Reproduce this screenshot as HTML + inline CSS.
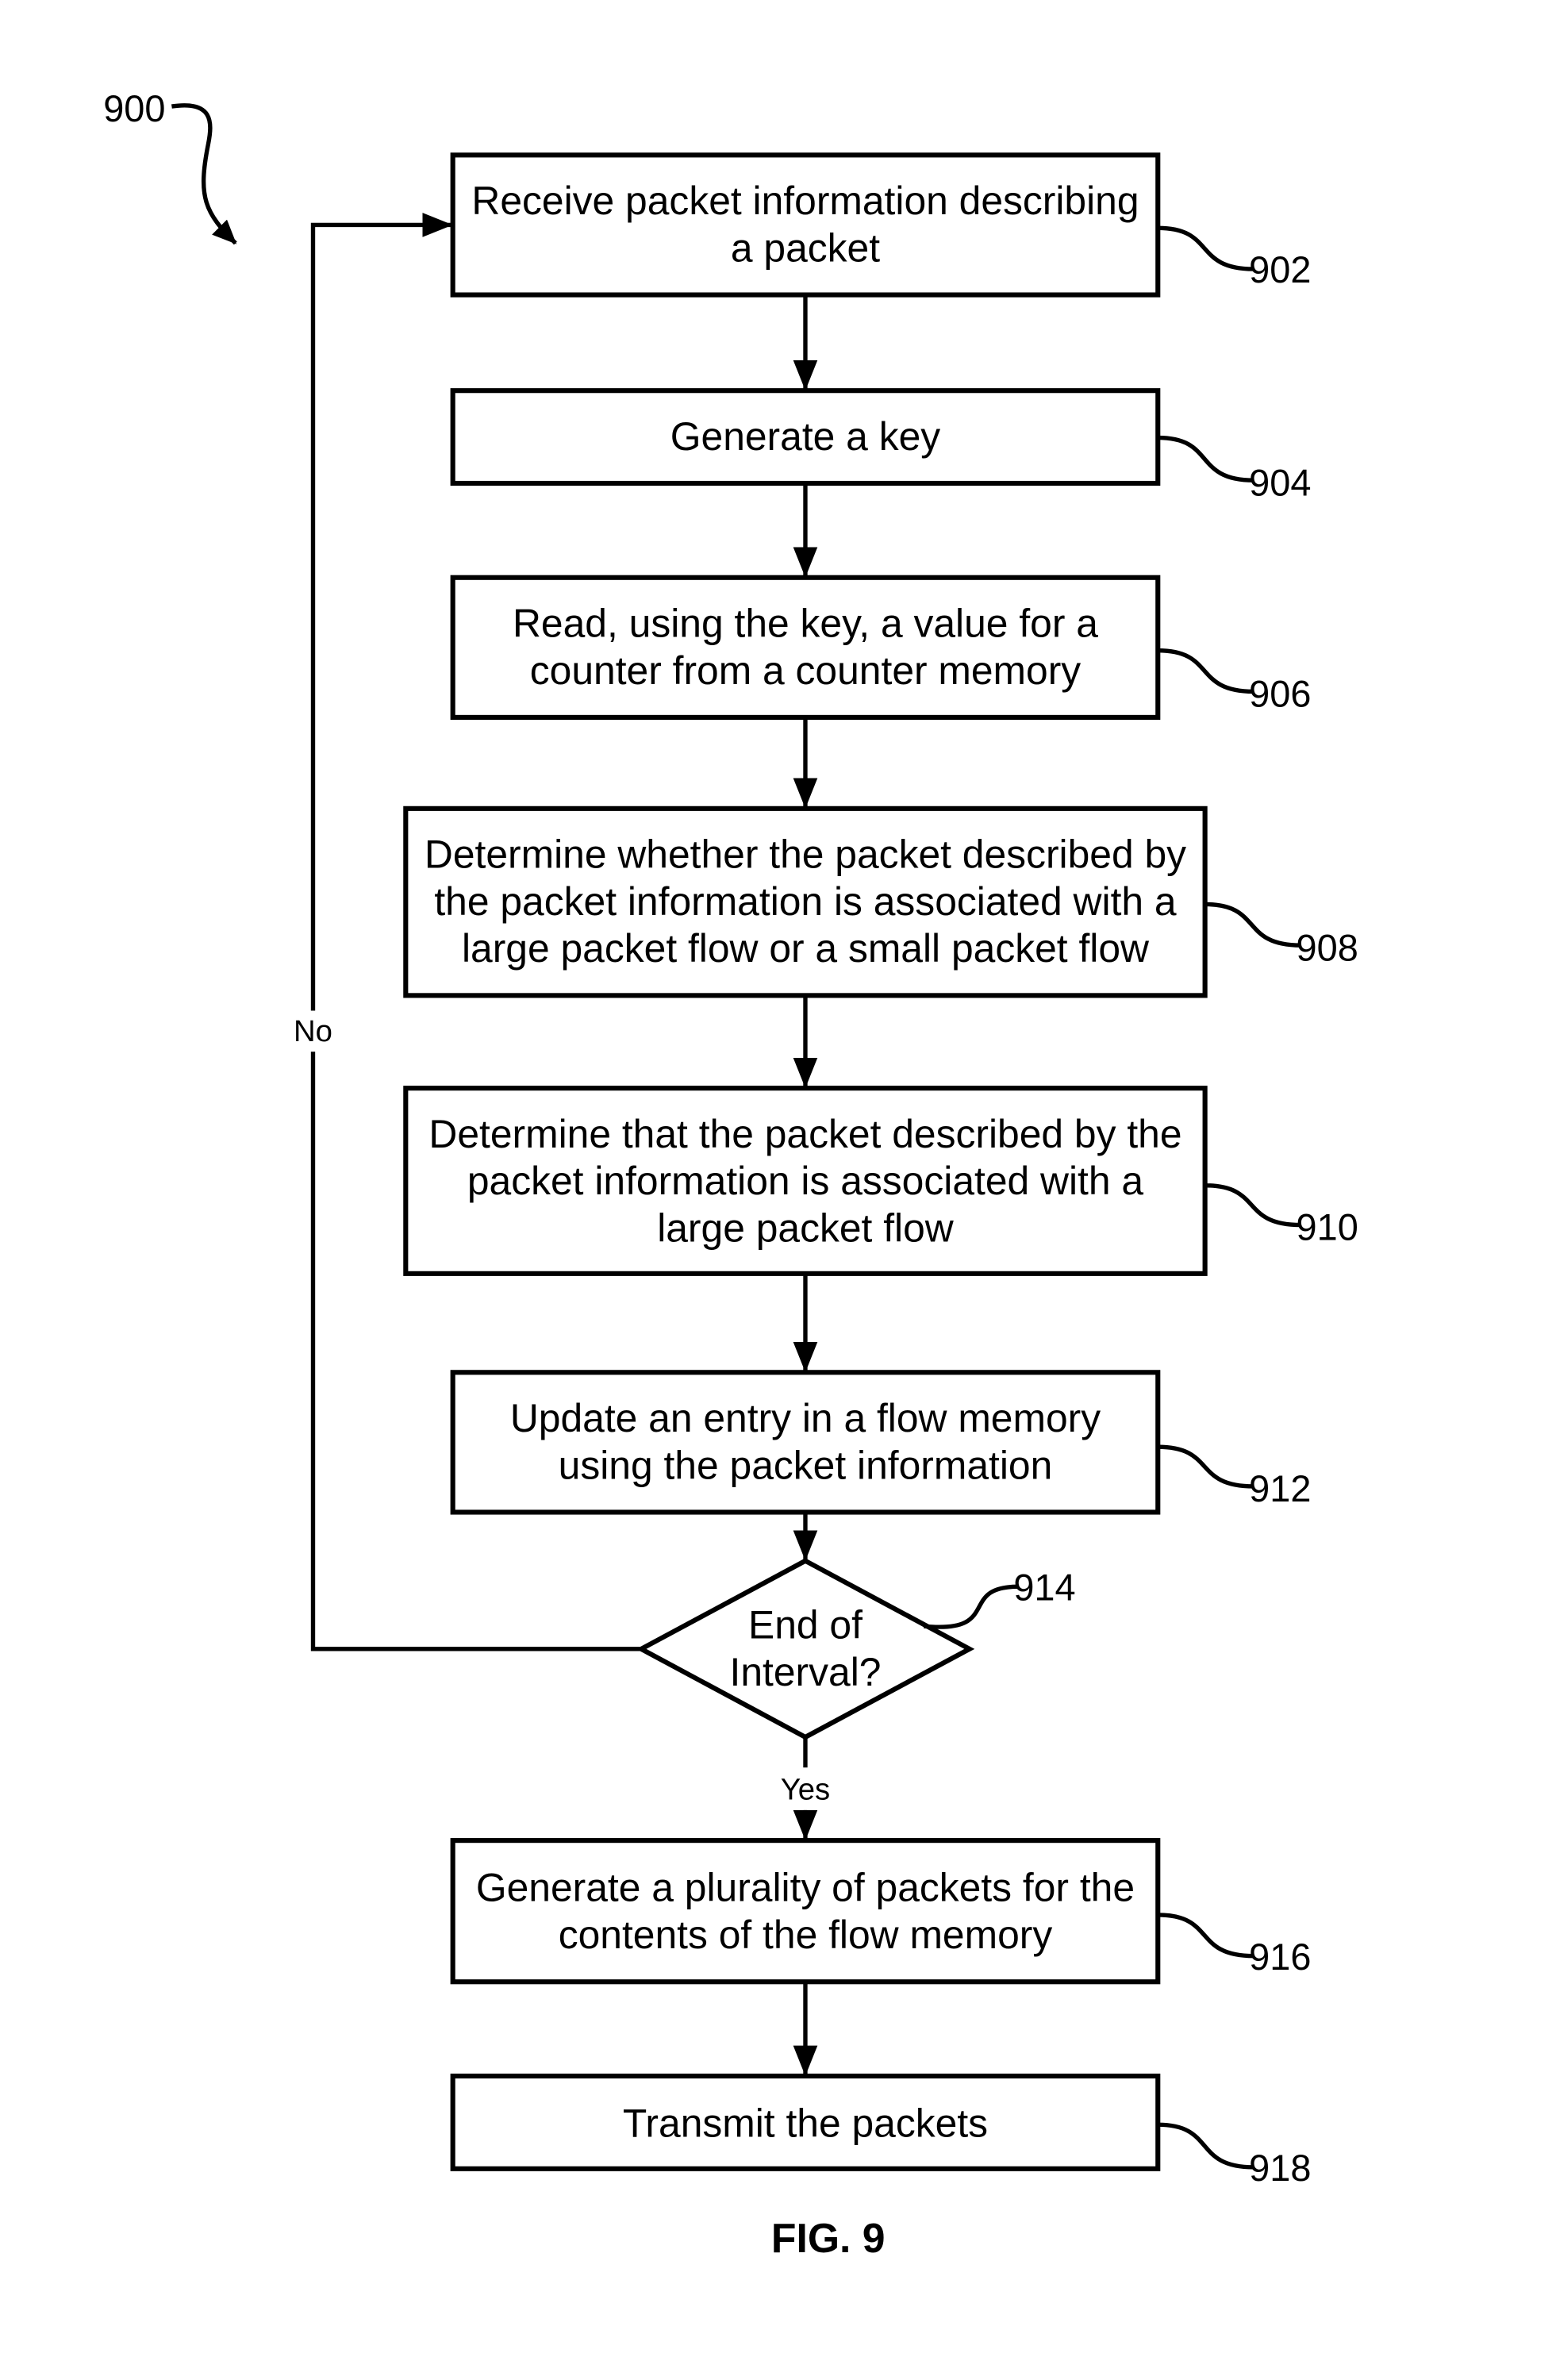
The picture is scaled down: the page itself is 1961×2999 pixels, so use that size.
<!DOCTYPE html>
<html><head><meta charset="utf-8"><style>
html,body{margin:0;padding:0;background:#fff;}
svg{display:block;}
text{font-family:"Liberation Sans",Arial,sans-serif;fill:#000;}
</style></head><body>
<svg width="1961" height="2999" viewBox="0 0 1024 1566" xmlns="http://www.w3.org/2000/svg">
<defs>
<marker id="a" markerWidth="16" markerHeight="14" refX="15" refY="7" orient="auto" markerUnits="userSpaceOnUse" viewBox="0 0 16 14">
<path d="M0,0 L16,7 L0,14 z" fill="#000"/></marker>
<marker id="b" markerWidth="20" markerHeight="16" refX="19" refY="8" orient="auto" markerUnits="userSpaceOnUse" viewBox="0 0 20 16">
<path d="M0,0 L20,8 L0,16 z" fill="#000"/></marker>
</defs>
<g fill="none" stroke="#000" stroke-width="3.2">
<rect x="298" y="102" width="464" height="92"/>
<rect x="298" y="257" width="464" height="61"/>
<rect x="298" y="380" width="464" height="92"/>
<rect x="267" y="532" width="526" height="123"/>
<rect x="267" y="716" width="526" height="122"/>
<rect x="298" y="903" width="464" height="92"/>
<polygon points="530,1027 638,1085 530,1143 422,1085"/>
<rect x="298" y="1211" width="464" height="93"/>
<rect x="298" y="1366" width="464" height="61"/>
</g>
<g stroke="#000" stroke-width="2.8" fill="none">
<line x1="530" y1="194" x2="530" y2="256" marker-end="url(#b)"/>
<line x1="530" y1="318" x2="530" y2="379" marker-end="url(#b)"/>
<line x1="530" y1="472" x2="530" y2="531" marker-end="url(#b)"/>
<line x1="530" y1="655" x2="530" y2="715" marker-end="url(#b)"/>
<line x1="530" y1="838" x2="530" y2="902" marker-end="url(#b)"/>
<line x1="530" y1="995" x2="530" y2="1026" marker-end="url(#b)"/>
<line x1="530" y1="1143" x2="530" y2="1163"/>
<line x1="530" y1="1191" x2="530" y2="1210" marker-end="url(#b)"/>
<line x1="530" y1="1304" x2="530" y2="1365" marker-end="url(#b)"/>
<polyline points="422,1085 206,1085 206,692"/>
<polyline points="206,665 206,148 297,148" marker-end="url(#b)"/>
<path d="M113,70 C140,66 140,80 137,95 C130,130 135,140 155,160" marker-end="url(#a)"/>
<path d="M762,150 C800,150 785,177 825,177"/>
<path d="M762,288 C800,288 785,316 825,316"/>
<path d="M762,428 C800,428 785,455 825,455"/>
<path d="M793,595 C831,595 816,622 856,622"/>
<path d="M793,780 C831,780 816,806 856,806"/>
<path d="M762,952 C800,952 785,978 825,978"/>
<path d="M608,1070 C660,1075 630,1044 670,1044"/>
<path d="M762,1260 C800,1260 785,1287 825,1287"/>
<path d="M762,1398 C800,1398 785,1426 825,1426"/>
</g>
<g font-size="26" text-anchor="middle">
<text x="530" y="141">Receive packet information describing</text>
<text x="530" y="172">a packet</text>
<text x="530" y="296">Generate a key</text>
<text x="530" y="419">Read, using the key, a value for a</text>
<text x="530" y="450">counter from a counter memory</text>
<text x="530" y="571">Determine whether the packet described by</text>
<text x="530" y="602">the packet information is associated with a</text>
<text x="530" y="633">large packet flow or a small packet flow</text>
<text x="530" y="755">Determine that the packet described by the</text>
<text x="530" y="786">packet information is associated with a</text>
<text x="530" y="817">large packet flow</text>
<text x="530" y="942">Update an entry in a flow memory</text>
<text x="530" y="973">using the packet information</text>
<text x="530" y="1078">End of</text>
<text x="530" y="1109">Interval?</text>
<text x="530" y="1251">Generate a plurality of packets for the</text>
<text x="530" y="1282">contents of the flow memory</text>
<text x="530" y="1406">Transmit the packets</text>
</g>
<g font-size="20" text-anchor="middle">
<text x="206" y="685">No</text>
<text x="530" y="1184">Yes</text>
</g>
<g font-size="24.5">
<text x="68" y="80">900</text>
<text x="822" y="186">902</text>
<text x="822" y="326">904</text>
<text x="822" y="465">906</text>
<text x="853" y="632">908</text>
<text x="853" y="816">910</text>
<text x="822" y="988">912</text>
<text x="667" y="1053">914</text>
<text x="822" y="1296">916</text>
<text x="822" y="1435">918</text>
</g>
<text x="545" y="1482" font-size="27" font-weight="bold" text-anchor="middle">FIG. 9</text>
</svg>
</body></html>
